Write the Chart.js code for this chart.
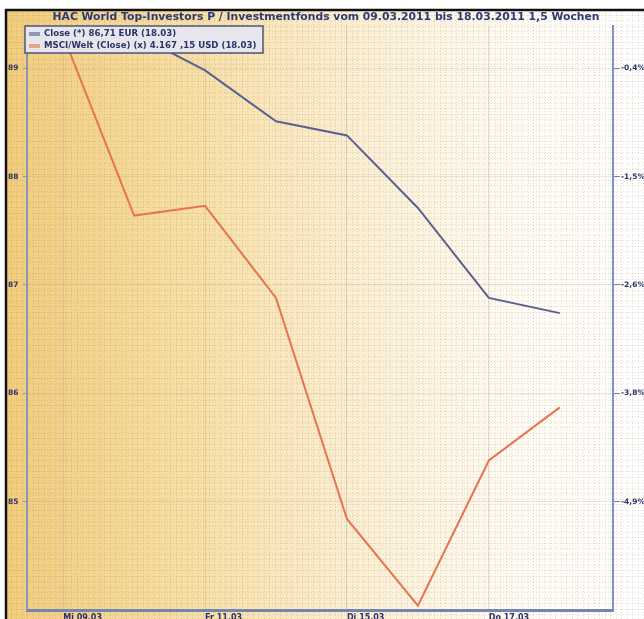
<!DOCTYPE html>
<html><head><meta charset="utf-8">
<script src="https://cdn.jsdelivr.net/npm/chart.js@4.4.1/dist/chart.umd.min.js"></script>
<style>html,body{margin:0;padding:0;background:#fff;overflow:hidden}canvas{display:block}</style>
</head><body><canvas id="c" width="644" height="619"></canvas>
<script>
const dates = ['Mi 09.03','Do 10.03','Fr 11.03','Mo 14.03','Di 15.03','Mi 16.03','Do 17.03','Fr 18.03'];
const fundClose = [89.36, 89.32, 88.98, 88.51, 88.38, 87.71, 86.88, 86.74];
const msciClose = [89.30, 87.64, 87.73, 86.88, 84.84, 84.04, 85.38, 85.87];
const leftTicks = [85, 86, 87, 88, 89];
const rightTickLabels = ['-4,9%', '-3,8%', '-2,6%', '-1,5%', '-0,4%'];
const labeledDateIdx = [0, 2, 4, 6];
const titleText = 'HAC World Top-Investors P / Investmentfonds vom 09.03.2011 bis 18.03.2011 1,5 Wochen';
const seriesLabels = ['Close (*) 86,71 EUR (18.03)', 'MSCI/Welt (Close) (x) 4.167 ,15 USD (18.03)'];
const seriesColors = ['#5a6192', '#e8744f'];

const textColor = '#2b3468';
const Y_MIN = 84, Y_MAX = 89.39;

const bgPlugin = {
  id: 'bg',
  beforeDraw(chart) {
    const ctx = chart.ctx, W = chart.width, H = chart.height;
    ctx.save();
    ctx.fillStyle = '#ffffff';
    ctx.fillRect(0, 0, W, H);
    const g = ctx.createLinearGradient(6, 0, W, 0);
    g.addColorStop(0, '#f2cc7c');
    g.addColorStop(0.3, '#f7dfa6');
    g.addColorStop(0.55, '#fbeed2');
    g.addColorStop(0.8, '#fffaf2');
    g.addColorStop(1, '#ffffff');
    ctx.fillStyle = g;
    ctx.fillRect(6, 10, W - 6, H - 10);
    // fine dotted pattern
    ctx.lineWidth = 1;
    ctx.setLineDash([1, 2]);
    ctx.strokeStyle = 'rgba(110,95,80,0.2)';
    for (let y = 14.5; y < H; y += 5.5) {
      ctx.beginPath(); ctx.moveTo(8, Math.round(y) + 0.5); ctx.lineTo(W, Math.round(y) + 0.5); ctx.stroke();
    }
    for (let x = 10.5; x < W; x += 5.5) {
      ctx.beginPath(); ctx.moveTo(Math.round(x) + 0.5, 12); ctx.lineTo(Math.round(x) + 0.5, H); ctx.stroke();
    }
    ctx.setLineDash([]);
    // outer frame
    ctx.strokeStyle = '#111111';
    ctx.lineWidth = 2.5;
    ctx.beginPath(); ctx.moveTo(6, H); ctx.lineTo(6, 10); ctx.lineTo(W, 10); ctx.stroke();
    ctx.restore();
  },
  afterDatasetsDraw(chart) {
    const ctx = chart.ctx;
    ctx.save();
    const x0 = 25, y0 = 26, w = 238, h = 27;
    ctx.fillStyle = '#e6e6ec';
    ctx.fillRect(x0, y0, w, h);
    ctx.strokeStyle = '#4d5479';
    ctx.lineWidth = 1.5;
    ctx.strokeRect(x0, y0, w, h);
    ctx.font = 'bold 8.6px "DejaVu Sans"';
    ctx.textBaseline = 'middle';
    chart.data.datasets.forEach((ds, i) => {
      const yy = y0 + 8 + i * 12;
      ctx.fillStyle = ds.borderColor;
      ctx.globalAlpha = 0.6;
      ctx.fillRect(x0 + 4, yy - 2, 11, 4);
      ctx.globalAlpha = 1;
      ctx.fillStyle = textColor;
      ctx.fillText(ds.label, x0 + 19, yy);
    });
    ctx.restore();
  }
};

new Chart(document.getElementById('c'), {
  type: 'line',
  data: {
    datasets: [
      { label: seriesLabels[0], data: fundClose.map((v, i) => ({ x: i, y: v })), borderColor: seriesColors[0], borderWidth: 2, pointRadius: 0, tension: 0, yAxisID: 'y' },
      { label: seriesLabels[1], data: msciClose.map((v, i) => ({ x: i, y: v })), borderColor: seriesColors[1], borderWidth: 2, pointRadius: 0, tension: 0, yAxisID: 'y' }
    ]
  },
  options: {
    responsive: false,
    animation: false,
    devicePixelRatio: 1,
    layout: { padding: { left: 8, top: 0, right: 0, bottom: 0 } },
    plugins: {
      legend: { display: false },
      tooltip: { enabled: false },
      title: {
        display: true, text: titleText, color: '#2c3a78',
        font: { family: '"DejaVu Sans"', size: 10.8, weight: 'bold' },
        padding: { top: 11, bottom: 2 }
      }
    },
    scales: {
      x: {
        type: 'linear', position: 'bottom', min: -0.51, max: 7.75,
        afterBuildTicks: ax => { ax.ticks = labeledDateIdx.map(v => ({ value: v })); },
        afterFit: ax => { ax.height = 9; },
        ticks: { callback: v => dates[v], align: 'start', color: textColor, font: { family: '"DejaVu Sans"', size: 8, weight: 'bold' }, padding: 3, maxRotation: 0, autoSkip: false },
        grid: { color: 'rgba(150,140,130,0.25)', drawTicks: false },
        border: { color: '#7486b0', width: 3 }
      },
      y: {
        position: 'left', min: Y_MIN, max: Y_MAX,
        afterBuildTicks: ax => { ax.ticks = leftTicks.map(v => ({ value: v })); },
        afterFit: ax => { ax.width = 19; },
        ticks: { callback: v => String(v), crossAlign: 'far', color: textColor, font: { family: '"DejaVu Sans"', size: 7.5, weight: 'bold' }, padding: 2 },
        grid: { color: 'rgba(150,140,130,0.18)', drawTicks: true, tickLength: 4, tickColor: '#8a96b8' },
        border: { color: '#8a96b8', width: 2 }
      },
      y2: {
        position: 'right', min: Y_MIN, max: Y_MAX,
        afterBuildTicks: ax => { ax.ticks = leftTicks.map(v => ({ value: v })); },
        afterFit: ax => { ax.width = 31; },
        ticks: { callback: v => rightTickLabels[leftTicks.indexOf(v)], color: textColor, font: { family: '"DejaVu Sans"', size: 7.5, weight: 'bold' }, padding: 1 },
        grid: { drawOnChartArea: false, drawTicks: true, tickLength: 7, tickColor: '#6f7fae' },
        border: { color: '#7f94c4', width: 2 }
      }
    }
  },
  plugins: [bgPlugin]
});
</script>
</body></html>
